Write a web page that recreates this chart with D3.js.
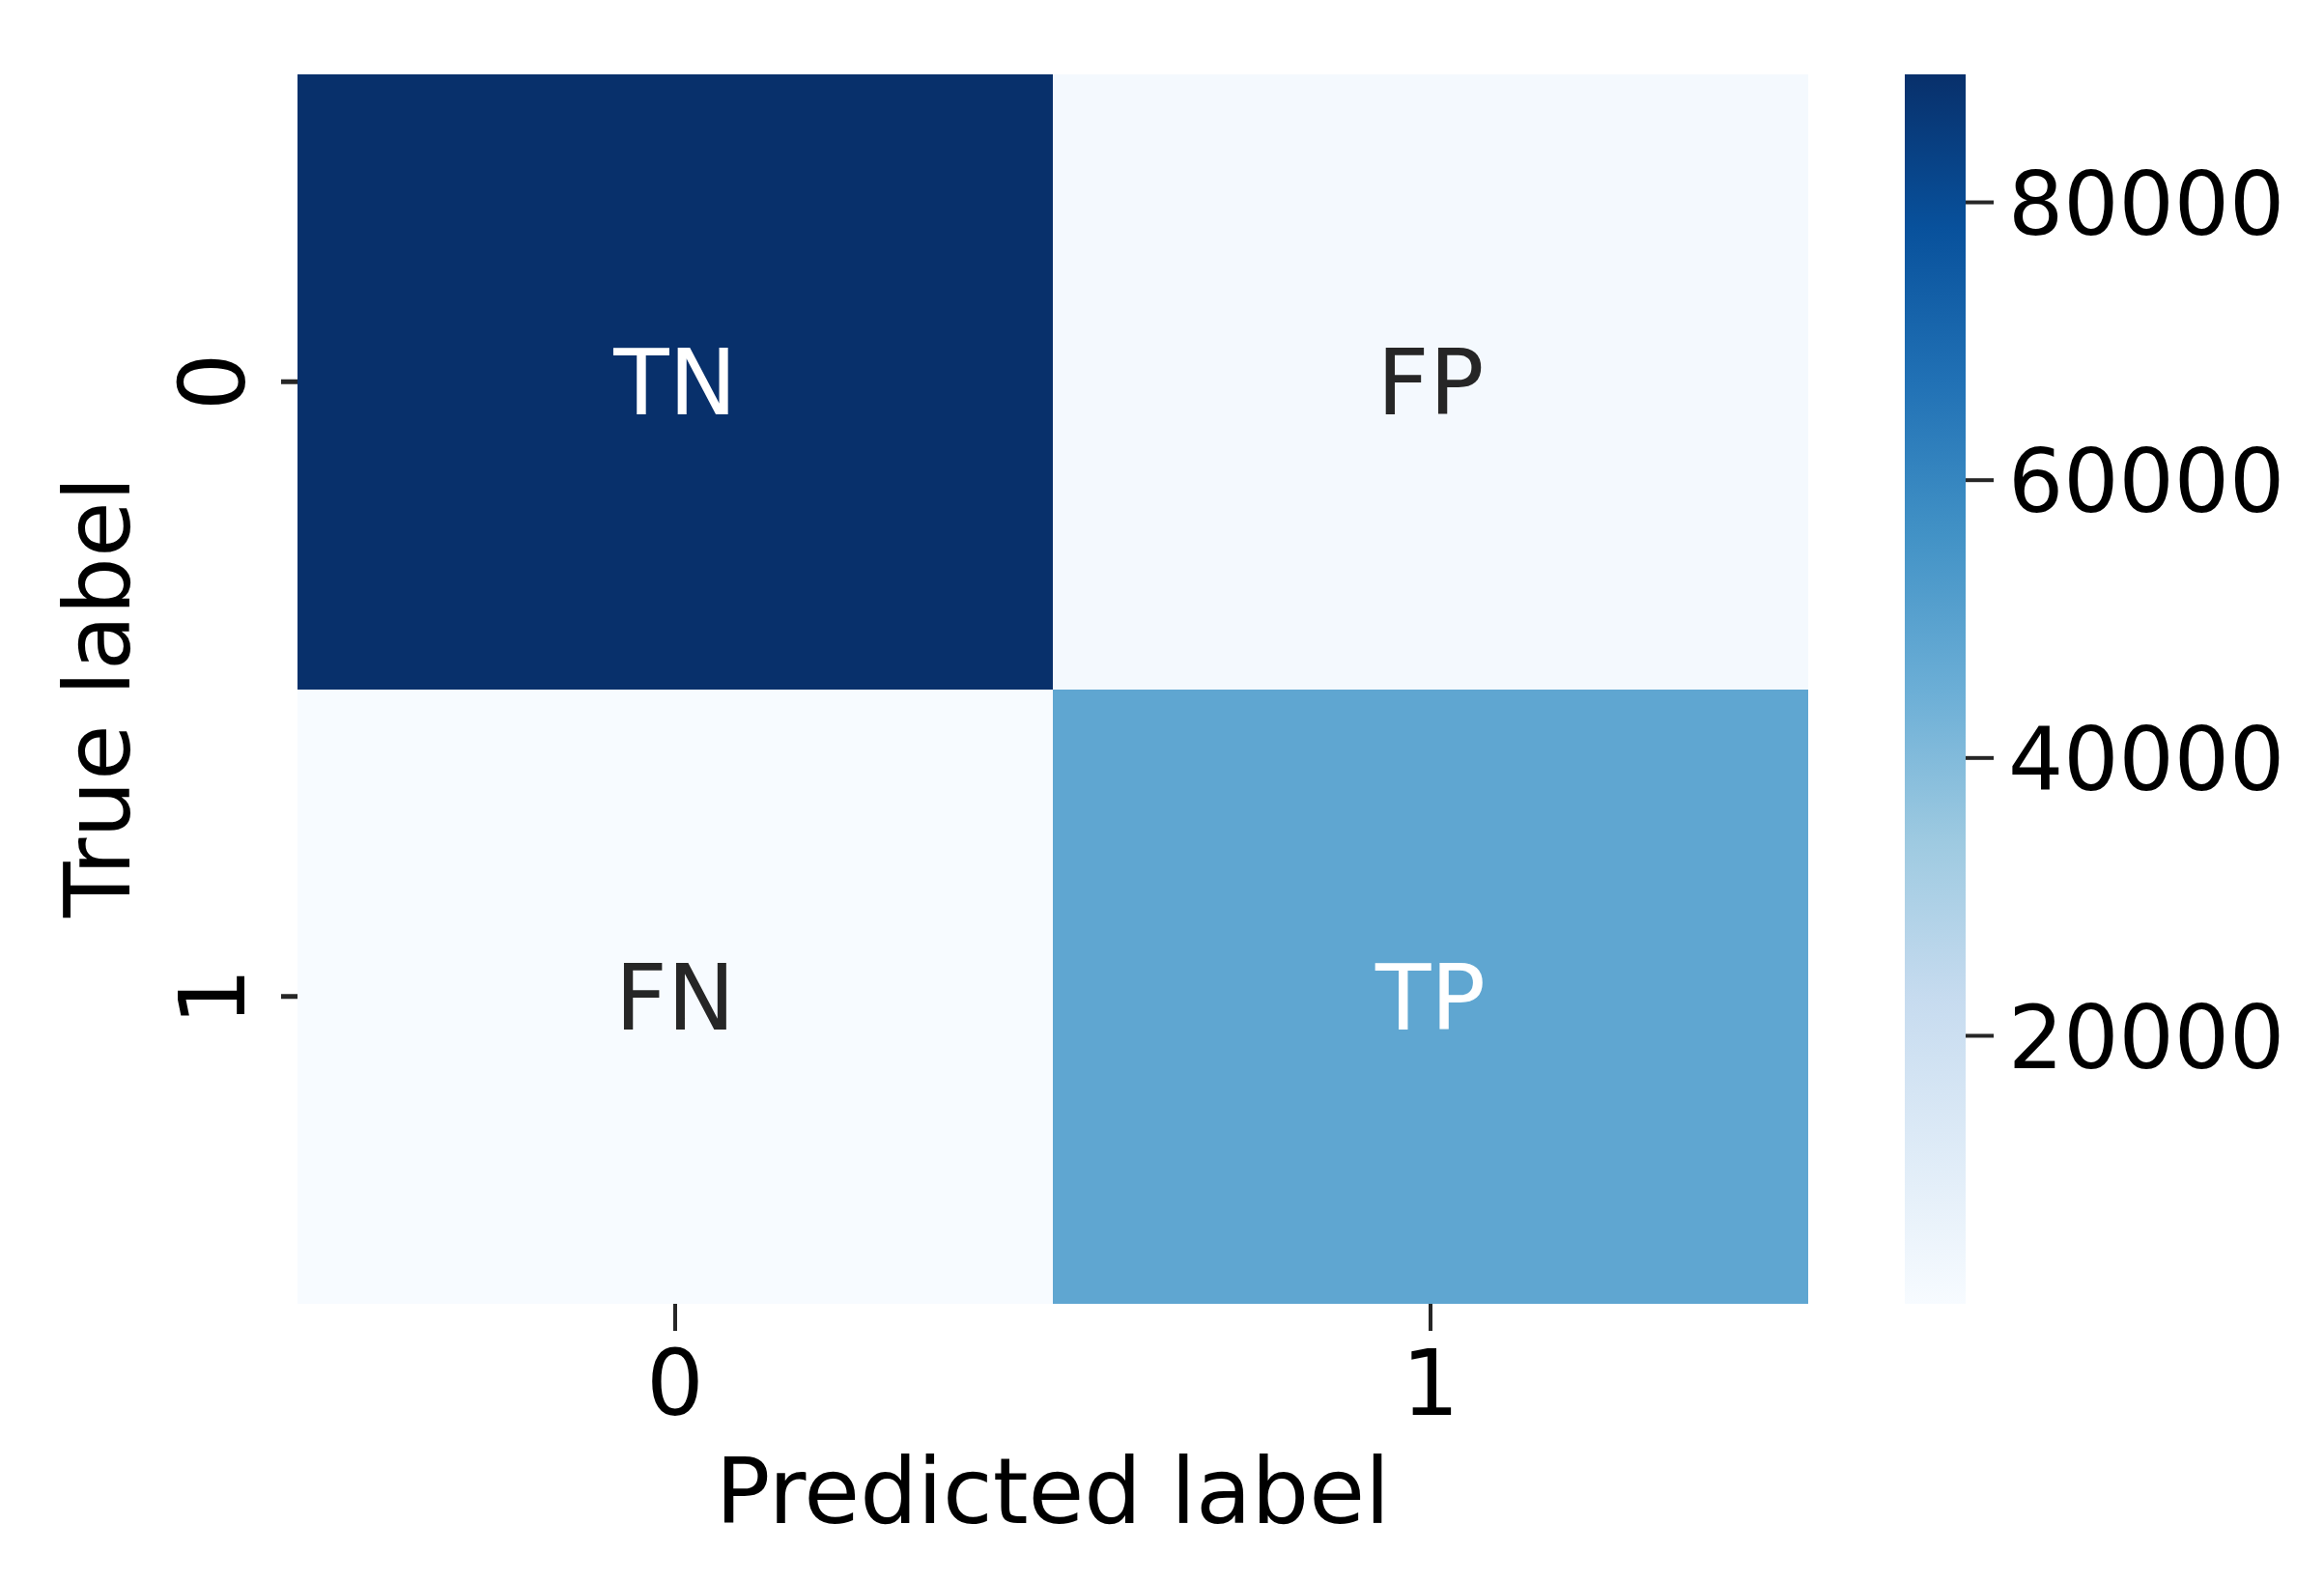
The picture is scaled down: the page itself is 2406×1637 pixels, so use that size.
<!DOCTYPE html>
<html>
<head>
<meta charset="utf-8">
<script src="https://cdn.jsdelivr.net/npm/d3@7"></script>
<style>
  body { margin: 0; background: #fff; }
  text { font-family: "DejaVu Sans", sans-serif; }
</style>
</head>
<body>
<script>
// confusion matrix data
var predLabels = ["0", "1"];
var trueLabels = ["0", "1"];
var cellNames = [["TN", "FP"], ["FN", "TP"]];
var cellValues = [[89180, 2050], [670, 48100]];
var cbarTicks = [20000, 40000, 60000, 80000];
// matplotlib "Blues" stops
var bluesStops = ["#f7fbff", "#deebf7", "#c6dbef", "#9ecae1", "#6baed6", "#4292c6", "#2171b5", "#08519c", "#08306b"];

var W = 2406, H = 1637;
var fontSize = 94;
// NB: "top" is a read-only global in browsers, so use a margin object
var plot = {left: 308, right: 1872, top: 77, bottom: 1350};
var cbLeft = 1972, cbRight = 2035;

var cells = [];
trueLabels.forEach(function(t, i) {
    predLabels.forEach(function(p, j) {
        cells.push({row: t, col: p, name: cellNames[i][j], value: cellValues[i][j]});
    });
});

var vmin = d3.min(cells, function(d) { return d.value; }),
    vmax = d3.max(cells, function(d) { return d.value; });

var color = d3.scaleLinear()
    .domain(bluesStops.map(function(c, i) { return vmin + i / (bluesStops.length - 1) * (vmax - vmin); }))
    .range(bluesStops)
    .interpolate(d3.interpolateRgb);

// relative luminance (same rule seaborn uses for annot colour)
function luminance(c) {
    c = d3.rgb(c);
    var lin = [c.r, c.g, c.b].map(function(v) {
        v = v / 255;
        return v <= 0.03928 ? v / 12.92 : Math.pow((v + 0.055) / 1.055, 2.4);
    });
    return 0.2126 * lin[0] + 0.7152 * lin[1] + 0.0722 * lin[2];
}

var xScale = d3.scaleBand().domain(predLabels).range([plot.left, plot.right]);
var yScale = d3.scaleBand().domain(trueLabels).range([plot.top, plot.bottom]);
var cScale = d3.scaleLinear().domain([vmin, vmax]).range([plot.bottom, plot.top]);

var svg = d3.select("body").append("svg")
    .attr("width", W)
    .attr("height", H);

// heatmap cells
svg.selectAll(".cell")
    .data(cells)
  .enter().append("rect")
    .attr("class", "cell")
    .attr("x", function(d) { return xScale(d.col); })
    .attr("y", function(d) { return yScale(d.row); })
    .attr("width", xScale.bandwidth())
    .attr("height", yScale.bandwidth())
    .attr("shape-rendering", "crispEdges")
    .style("fill", function(d) { return color(d.value); });

// annotations
svg.selectAll(".annot")
    .data(cells)
  .enter().append("text")
    .attr("class", "annot")
    .attr("x", function(d) { return xScale(d.col) + xScale.bandwidth() / 2; })
    .attr("y", function(d) { return yScale(d.row) + yScale.bandwidth() / 2; })
    .attr("dy", "0.36em")
    .attr("text-anchor", "middle")
    .style("font-size", fontSize + "px")
    .style("fill", function(d) {
        return luminance(color(d.value)) > 0.408 ? "#262626" : "#ffffff";
    })
    .text(function(d) { return d.name; });

// x axis
var xAxis = svg.append("g")
    .attr("transform", "translate(0," + plot.bottom + ")")
    .call(d3.axisBottom(xScale).tickSize(28));
xAxis.select(".domain").remove();
xAxis.selectAll(".tick line").attr("stroke", "#262626").attr("stroke-width", 4);
xAxis.selectAll(".tick text")
    .attr("dy", null)
    .attr("y", 115)
    .style("font-size", fontSize + "px")
    .style("fill", "#000");

// y axis, labels rotated
var yAxis = svg.append("g")
    .attr("transform", "translate(" + plot.left + ",0)")
    .call(d3.axisLeft(yScale).tickSize(17));
yAxis.select(".domain").remove();
yAxis.selectAll(".tick line").attr("stroke", "#262626").attr("stroke-width", 5);
yAxis.selectAll(".tick text")
    .attr("x", null)
    .attr("dy", null)
    .attr("text-anchor", "middle")
    .attr("transform", "translate(-55,0) rotate(-90)")
    .style("font-size", fontSize + "px")
    .style("fill", "#000");

// colorbar
var defs = svg.append("defs");
var grad = defs.append("linearGradient")
    .attr("id", "cbar")
    .attr("x1", 0).attr("y1", 1).attr("x2", 0).attr("y2", 0);
grad.selectAll("stop")
    .data(bluesStops)
  .enter().append("stop")
    .attr("offset", function(d, i) { return i / (bluesStops.length - 1); })
    .attr("stop-color", function(d) { return d; });

svg.append("rect")
    .attr("x", cbLeft)
    .attr("y", plot.top)
    .attr("width", cbRight - cbLeft)
    .attr("height", plot.bottom - plot.top)
    .style("fill", "url(#cbar)");

var cAxis = svg.append("g")
    .attr("transform", "translate(" + cbRight + ",0)")
    .call(d3.axisRight(cScale).tickValues(cbarTicks).tickSize(29).tickPadding(15).tickFormat(d3.format("d")));
cAxis.select(".domain").remove();
cAxis.selectAll(".tick line").attr("stroke", "#262626").attr("stroke-width", 4);
cAxis.selectAll(".tick text")
    .attr("dy", "0.37em")
    .style("font-size", "90px")
    .style("fill", "#000");

// axis titles
svg.append("text")
    .attr("x", (plot.left + plot.right) / 2)
    .attr("y", 1577)
    .attr("text-anchor", "middle")
    .style("font-size", fontSize + "px")
    .style("fill", "#000")
    .text("Predicted label");

svg.append("text")
    .attr("transform", "translate(134," + ((plot.top + plot.bottom) / 2 + 8) + ") rotate(-90)")
    .attr("text-anchor", "middle")
    .style("font-size", fontSize + "px")
    .style("fill", "#000")
    .text("True label");
</script>
</body>
</html>
